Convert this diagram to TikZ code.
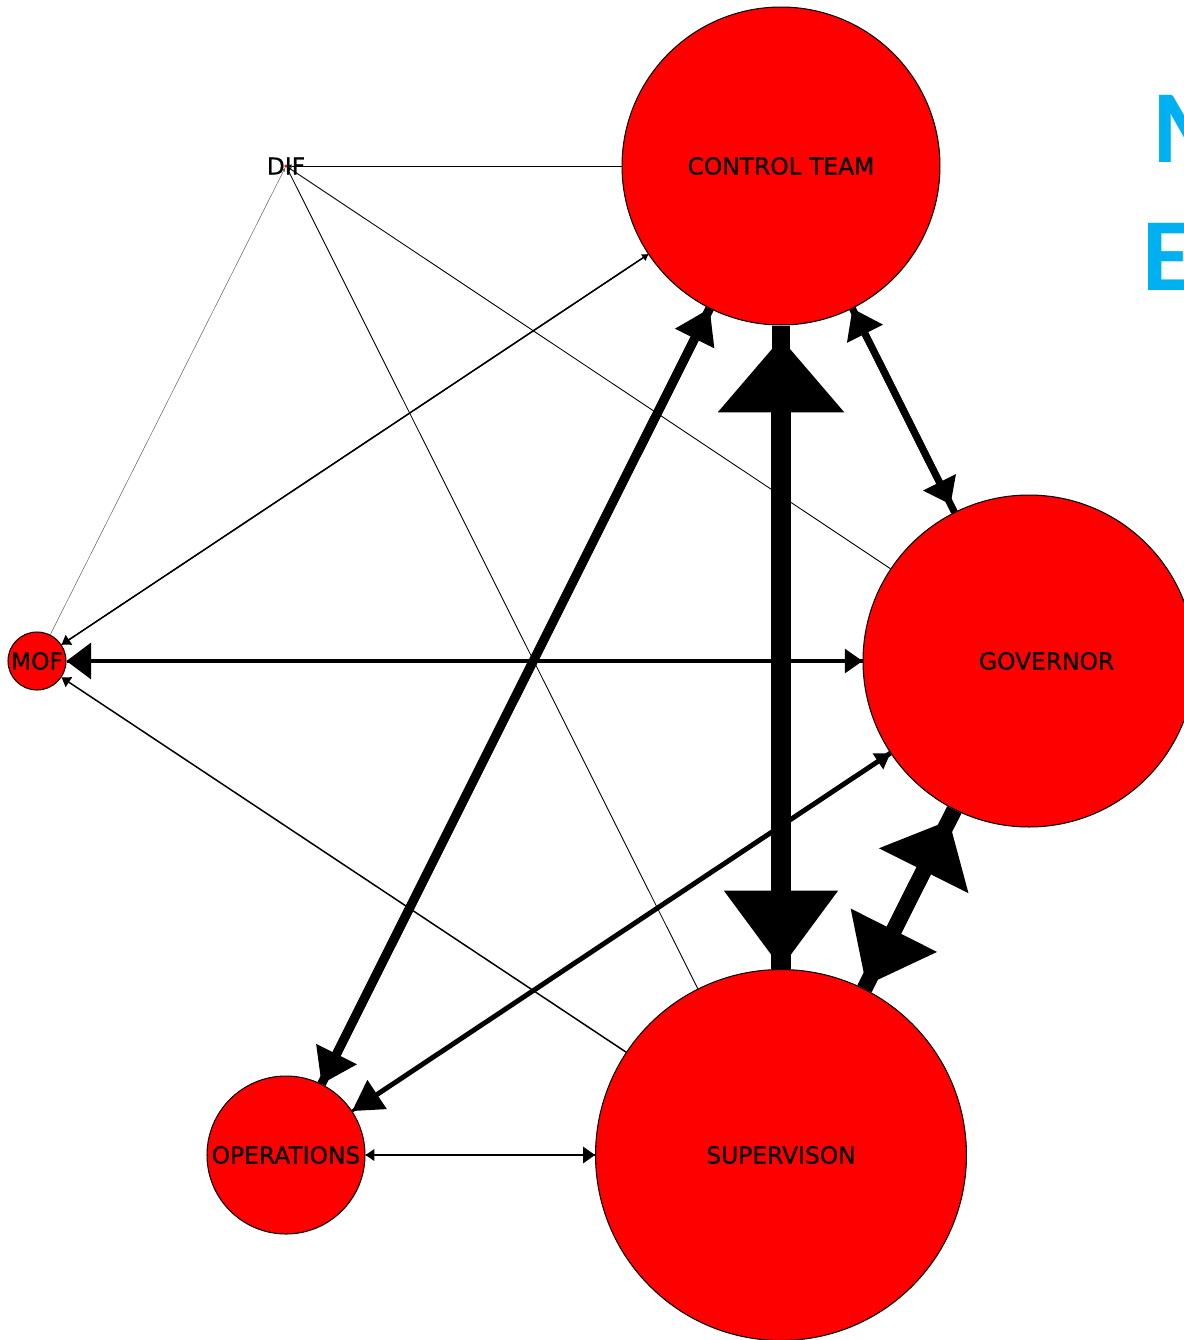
\documentclass[tikz,border=0pt]{standalone}
\usepackage{fontspec}
\setmainfont{DejaVu Sans}
\newfontfamily\lblfont[FakeBold=0.7]{DejaVu Sans}
\newfontfamily\headfont{Carlito}
\usepackage{tikz}
\usetikzlibrary{arrows.meta}
\definecolor{slideblue}{RGB}{0,176,240}

\begin{document}
\begin{tikzpicture}[x=0.02cm,y=-0.02cm,
		vertex/.style={circle,draw=black,line width=0.6pt,fill=red,inner sep=0pt},
		lbl/.style={inner sep=0pt,font=\lblfont\fontsize{13.3}{16}\selectfont}]
		  \useasboundingbox (0,0) rectangle (1184,1340);
		  \foreach \x/\y/\alph/\size/\dx/\name in {
		  		781/166/ct/6.36cm/0pt/CONTROL TEAM,
		  		1029/661/gov/6.64cm/10pt/GOVERNOR,
		  		781/1155/sup/7.42cm/0pt/SUPERVISON,
		  		286/1155/ops/3.16cm/0pt/OPERATIONS,
		  		37/661/mof/1.16cm/0pt/MOF
		  }{
		  	\node[vertex,minimum size=\size,label={[lbl,xshift=\dx]center:\name}] (\alph) at (\x,\y) {};
		  }
		  \node[circle,fill=red,inner sep=0pt,minimum size=0.07cm,label={[lbl]center:DIF}] (dif) at (286,166) {};
		  % one line per directed edge: width, head width, head length, gap
		  \foreach \src/\dst/\w/\hw/\hl/\s in {
		  		sup/ct/11.9pt/72pt/42pt/7.4pt,
		  		ct/sup/10.8pt/65pt/44pt/0.6pt,
		  		sup/gov/9.1pt/57pt/32pt/6.8pt,
		  		gov/sup/9.1pt/55pt/35pt/2.3pt,
		  		ct/ops/5.1pt/26pt/19pt/0pt,
		  		ops/ct/5.1pt/25pt/19pt/0pt,
		  		ct/gov/4pt/21pt/14pt/5pt,
		  		gov/ct/4pt/23pt/16pt/0pt,
		  		gov/mof/2.8pt/21pt/14pt/0pt,
		  		mof/gov/1.7pt/14pt/10pt/0pt,
		  		gov/ops/2.8pt/20pt/17pt/0pt,
		  		ops/gov/1.7pt/11pt/8.5pt/0pt,
		  		ops/sup/1.4pt/9.6pt/6.8pt/0pt,
		  		sup/ops/1.4pt/6.8pt/5pt/0pt,
		  		ct/mof/0.85pt/6.8pt/5pt/0pt,
		  		mof/ct/0.6pt/4.5pt/3.4pt/0pt,
		  		sup/mof/0.85pt/6.8pt/5pt/0pt,
		  		ct/dif/0.5pt/2pt/2pt/0pt,
		  		gov/dif/0.5pt/2pt/2pt/0pt,
		  		sup/dif/0.5pt/2pt/2pt/0pt
		  }{
		  	\draw[line width=\w,-{Triangle[width=\hw,length=\hl,line width=0pt]},shorten >=\s] (\src) -- (\dst);
		  }
		  \draw[line width=0.3pt,black!60,-{Triangle[width=2pt,length=2pt,line width=0pt]}] (mof) -- (dif);
		  \node[anchor=base west,inner sep=0pt,text=slideblue,font=\headfont\bfseries\fontsize{59}{70}\selectfont] (headA) at (1152,162) {M};
		  \node[anchor=base west,inner sep=0pt,text=slideblue,font=\headfont\bfseries\fontsize{59}{70}\selectfont] (headB) at (1142,290) {E};
\end{tikzpicture}
\end{document}
